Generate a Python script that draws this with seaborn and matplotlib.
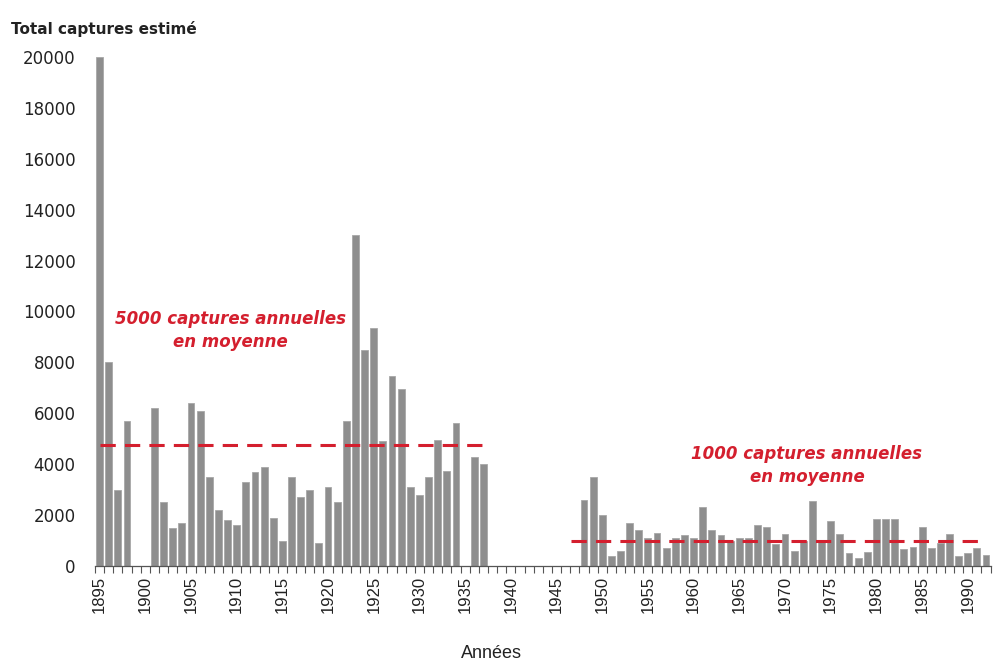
import numpy as np
import pandas as pd
import matplotlib
matplotlib.use("Agg")
import matplotlib.pyplot as plt
import seaborn as sns

# estimated annual captures, 1895-1992 (0 = no data)
years = list(range(1895, 1993))
captures = [
    20000, 8000, 3000, 5700, 0, 0, 6200, 2500, 1500, 1700,      # 1895-1904
    6400, 6100, 3500, 2200, 1800, 1600, 3300, 3700, 3900, 1900,  # 1905-1914
    1000, 3500, 2700, 3000, 900, 3100, 2500, 5700, 13000, 8500,  # 1915-1924
    9350, 4900, 7450, 6950, 3100, 2800, 3500, 4950, 3750, 5600,  # 1925-1934
    0, 4300, 4000, 0, 0, 0, 0, 0, 0, 0,                          # 1935-1944
    0, 0, 0, 2600, 3500, 2000, 400, 600, 1700, 1400,             # 1945-1954
    1100, 1300, 700, 1100, 1200, 1100, 2300, 1400, 1200, 1000,   # 1955-1964
    1100, 1100, 1600, 1550, 850, 1250, 600, 1000, 2550, 1000,    # 1965-1974
    1750, 1250, 500, 300, 550, 1850, 1850, 1850, 650, 750,       # 1975-1984
    1550, 700, 900, 1250, 400, 500, 700, 450,                    # 1985-1992
]

# period averages drawn as dashed lines
mean_early = 4750
mean_early_span = (1895, 1937.7)
mean_late = 1000
mean_late_span = (1946.6, 1991.8)

df = pd.DataFrame({"annee": years, "captures": captures})

sns.set_style("white")
plt.rcParams["font.family"] = ["DejaVu Sans"]

fig = plt.figure(figsize=(9.95, 6.64), dpi=100)
ax = fig.add_axes([0.0955, 0.1476, 0.9001, 0.7666])

sns.barplot(data=df, x="annee", y="captures", native_scale=True,
            color="#8e8e8e", saturation=1, width=0.75,
            edgecolor="#a8a8a8", linewidth=0.6, ax=ax)

red = "#d41f2e"
ax.hlines(mean_early, *mean_early_span, colors=red, linewidth=2.2,
          linestyles=(0, (5, 3)))
ax.hlines(mean_late, *mean_late_span, colors=red, linewidth=2.2,
          linestyles=(0, (5, 3)))

ax.text(1909.3, 9250, "5000 captures annuelles\nen moyenne", color=red,
        fontsize=12, fontweight="bold", fontstyle="italic",
        ha="center", va="center", linespacing=1.3)
ax.text(1972.4, 3950, "1000 captures annuelles\nen moyenne", color=red,
        fontsize=12, fontweight="bold", fontstyle="italic",
        ha="center", va="center", linespacing=1.3)

ax.set_xlim(1894.5, 1992.5)
ax.set_ylim(0, 20000)
ax.set_yticks(range(0, 20001, 2000))
ax.set_yticklabels([str(v) for v in range(0, 20001, 2000)], fontsize=12,
                   color="#222222")

ax.set_xticks(range(1895, 1993, 5))
ax.set_xticklabels([str(y) for y in range(1895, 1993, 5)], rotation=90,
                   fontsize=12, color="#222222", family="Liberation Sans")
ax.set_xticks(np.arange(1894.5, 1993, 1), minor=True)
ax.tick_params(axis="x", which="major", length=0, pad=7)
ax.tick_params(axis="x", which="minor", length=5, width=0.8,
               color="#555555", bottom=True)
ax.tick_params(axis="y", length=0, pad=14)

for side in ["top", "right", "left"]:
    ax.spines[side].set_visible(False)
ax.spines["bottom"].set_color("#555555")
ax.spines["bottom"].set_linewidth(0.9)

ax.set_ylabel("")
ax.set_xlabel("Années", fontsize=13, color="#222222",
              family="Liberation Sans")
ax.xaxis.set_label_coords(0.443, -0.155)

fig.text(0.011, 0.957, "Total captures estimé", fontsize=11,
         fontweight="bold", color="#222222", ha="left", va="center")

fig.savefig("out.png", dpi=100)
